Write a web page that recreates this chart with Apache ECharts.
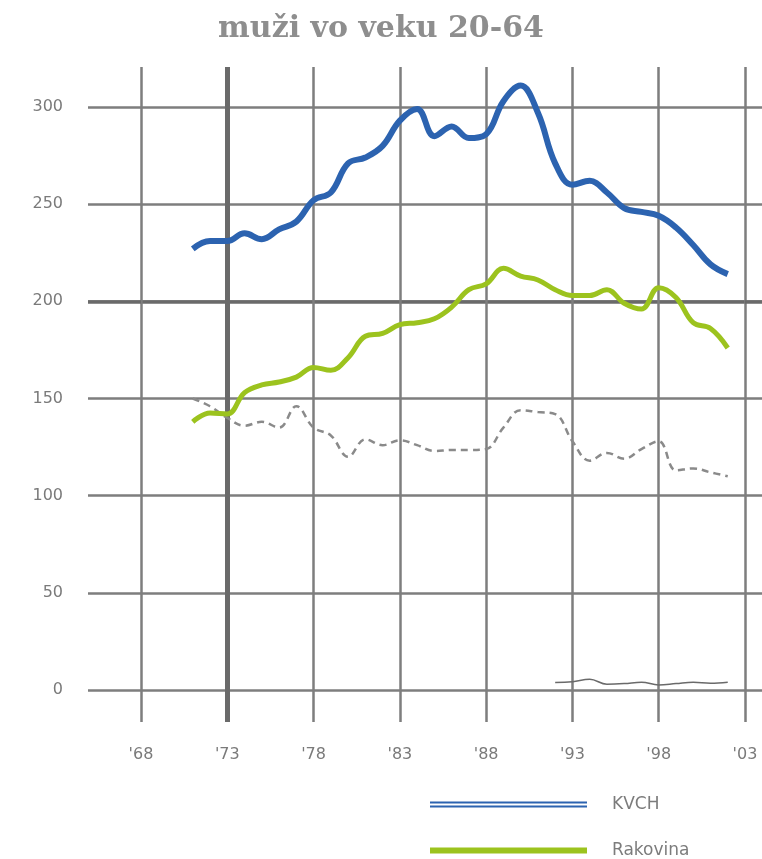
<!DOCTYPE html>
<html><head><meta charset="utf-8">
<script src="https://cdn.jsdelivr.net/npm/echarts@6/dist/echarts.min.js"></script>
<style>html,body{margin:0;padding:0;background:#fff}#c{width:762px;height:859px}</style>
</head><body><div id="c"></div>
<script>
const titleText = 'muži vo veku 20-64';
const categories = ['1968','1969','1970','1971','1972','1973','1974','1975','1976','1977','1978','1979','1980','1981','1982','1983','1984','1985','1986','1987','1988','1989','1990','1991','1992','1993','1994','1995','1996','1997','1998','1999','2000','2001','2002','2003'];
const yTickLabels = ['0','50','100','150','200','250','300'];
const mainYears = ['1971','1972','1973','1974','1975','1976','1977','1978','1979','1980','1981','1982','1983','1984','1985','1986','1987','1988','1989','1990','1991','1992','1993','1994','1995','1996','1997','1998','1999','2000','2001','2002'];
const kvch = [227,231,231,235,232,237,241,252,256,271,274,280,293,299,285,290,284,286,303,311,297,271,260,262,256,248,246,244,238,229,219,214];
const rakovina = [138,142.5,142,153,157,158.5,161,166,164.5,171,182,183.5,188,189,191,197,206,209,217,213,211,206,203,203,206,199,196,207,202,189,186,176];
const other = [150,146,140,136,138,135,146,135,131,120,129,126,128.5,126,123,123.5,123.5,124,135,144,143,142,128,118,122,119,124,128,113,114,112,110];
const smallYears = ['1992','1993','1994','1995','1996','1997','1998','1999','2000','2001','2002'];
const small = [3.8,4.3,5.5,3,3.3,4,2.6,3.3,4,3.5,4];

const pair = (ys, vs) => ys.map((y, i) => [y, vs[i]]);
const gridColor = '#7e7e7e';
const thickColor = '#6a6a6a';
const labelFont = {color: '#7a7a7a', fontSize: 16, fontFamily: 'DejaVu Sans'};
const every5 = (i) => i % 5 === 0;
const only73 = (i) => i === 5;
const only200 = (i) => i === 4;
const noLine = {show: false, onZero: false};
const legendText = {color: '#7c7c7c', fontSize: 17, fontFamily: 'DejaVu Sans', padding: [0, 0, 0, 20]};

const chart = echarts.init(document.getElementById('c'), null, {renderer: 'canvas'});
chart.setOption({
  animation: false,
  backgroundColor: '#fff',
  title: {
    text: titleText, left: 'center', top: 9,
    textStyle: {fontFamily: 'DejaVu Serif', fontWeight: 'bold', fontSize: 30, color: '#8e8e8e'}
  },
  grid: {left: 141, right: 17, top: 107, bottom: 169},
  legend: [
    {left: 430, top: 796, itemWidth: 157, itemHeight: 6, itemGap: 0, padding: 0,
     textStyle: legendText,
     data: [{name: 'KVCH', icon: 'path://M0 0H157V2H0Z M0 4H157V6H0Z'}]},
    {left: 430, top: 842, itemWidth: 157, itemHeight: 6, itemGap: 0, padding: 0,
     textStyle: legendText,
     data: [{name: 'Rakovina', icon: 'rect'}]}
  ],
  xAxis: [
    {type: 'category', data: categories, boundaryGap: false, position: 'bottom',
     axisLine: noLine,
     axisTick: {show: true, interval: every5, length: 32, lineStyle: {color: gridColor, width: 2.5}},
     axisLabel: {interval: every5, margin: 57, formatter: v => "'" + v.slice(2), ...labelFont},
     splitLine: {show: true, interval: every5, lineStyle: {color: gridColor, width: 2.5}}},
    {type: 'category', data: categories, boundaryGap: false, position: 'top',
     axisLine: noLine,
     axisTick: {show: true, interval: every5, length: 40, lineStyle: {color: gridColor, width: 2.5}},
     axisLabel: {show: false}, splitLine: {show: false}},
    {type: 'category', data: categories, boundaryGap: false, position: 'bottom',
     axisLine: noLine,
     axisTick: {show: true, interval: only73, length: 32, lineStyle: {color: thickColor, width: 5}},
     axisLabel: {show: false},
     splitLine: {show: true, interval: only73, lineStyle: {color: thickColor, width: 5}}},
    {type: 'category', data: categories, boundaryGap: false, position: 'top',
     axisLine: noLine,
     axisTick: {show: true, interval: only73, length: 40, lineStyle: {color: thickColor, width: 5}},
     axisLabel: {show: false}, splitLine: {show: false}}
  ],
  yAxis: [
    {type: 'value', min: 0, max: 300, interval: 50, position: 'left',
     axisLine: noLine,
     axisTick: {show: true, length: 53, lineStyle: {color: gridColor, width: 2.5}},
     axisLabel: {margin: 78, ...labelFont},
     splitLine: {show: true, lineStyle: {color: gridColor, width: 2.5}}},
    {type: 'value', min: 0, max: 300, interval: 50, position: 'right',
     axisLine: noLine,
     axisTick: {show: true, length: 17, lineStyle: {color: gridColor, width: 2.5}},
     axisLabel: {show: false}, splitLine: {show: false}},
    {type: 'category', data: yTickLabels, boundaryGap: false, position: 'left',
     axisLine: noLine,
     axisTick: {show: true, interval: only200, length: 53, lineStyle: {color: thickColor, width: 3.5}},
     axisLabel: {show: false},
     splitLine: {show: true, interval: only200, lineStyle: {color: thickColor, width: 3.5}}},
    {type: 'category', data: yTickLabels, boundaryGap: false, position: 'right',
     axisLine: noLine,
     axisTick: {show: true, interval: only200, length: 17, lineStyle: {color: thickColor, width: 3.5}},
     axisLabel: {show: false}, splitLine: {show: false}}
  ],
  series: [
    {name: 'other', type: 'line', data: pair(mainYears, other), smooth: 0.4, symbol: 'none', clip: false,
     lineStyle: {color: '#8a8a8a', width: 2.5, type: [7, 5]}, z: 3},
    {name: 'small', type: 'line', data: pair(smallYears, small), smooth: 0.4, symbol: 'none', clip: false,
     lineStyle: {color: '#6a6a6a', width: 1.5}, z: 3},
    {name: 'Rakovina', type: 'line', data: pair(mainYears, rakovina), smooth: 0.4, symbol: 'none', clip: false,
     itemStyle: {color: '#9cc31e'}, lineStyle: {color: '#9cc31e', width: 5}, z: 4},
    {name: 'KVCH', type: 'line', data: pair(mainYears, kvch), smooth: 0.4, symbol: 'none', clip: false,
     itemStyle: {color: '#2c63b0'}, lineStyle: {color: '#2c63b0', width: 6}, z: 5}
  ]
});
</script>
</body></html>
